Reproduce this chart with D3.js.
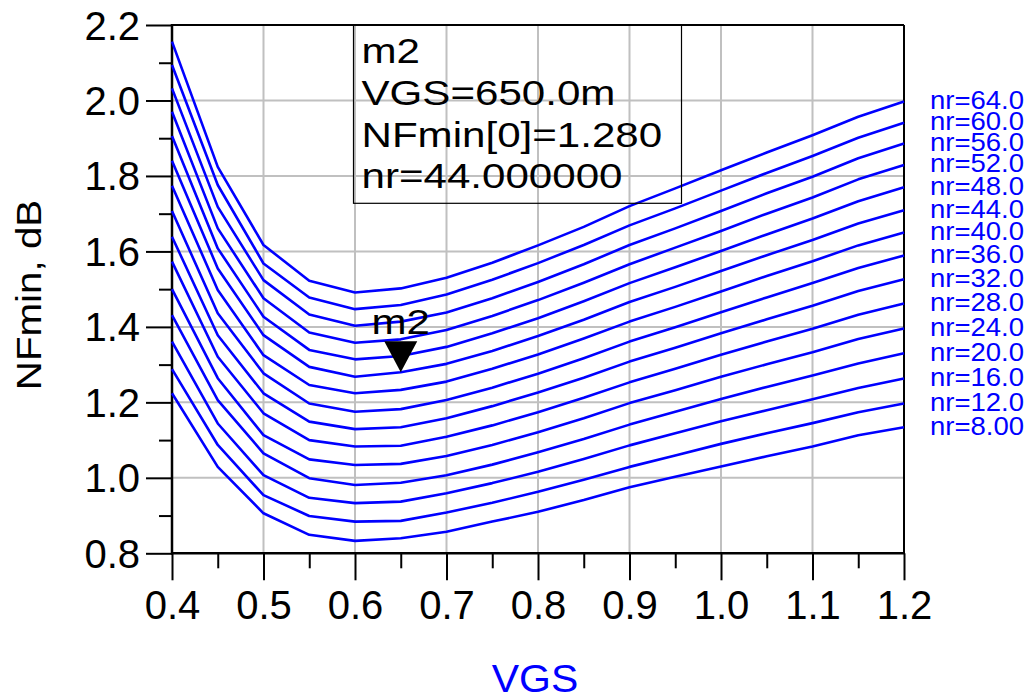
<!DOCTYPE html>
<html>
<head>
<meta charset="utf-8">
<script src="https://cdn.jsdelivr.net/npm/d3@7"></script>
<style>
  html, body { margin: 0; padding: 0; background: #fff; }
  svg { display: block; font-family: "Liberation Sans", Arial, Helvetica, sans-serif; }
</style>
</head>
<body>
<svg id="chart" width="1035" height="700"></svg>
<script>
// Gate bias sweep points (V)
const vgs = [0.40, 0.45, 0.50, 0.55, 0.60, 0.65, 0.70, 0.75, 0.80, 0.85, 0.90, 0.95, 1.00, 1.05, 1.10, 1.15, 1.20];

// Number of gate fingers for each curve
const nrValues = [8, 12, 16, 20, 24, 28, 32, 36, 40, 44, 48, 52, 56, 60, 64];
const nrLabels = ["nr=8.00", "nr=12.0", "nr=16.0", "nr=20.0", "nr=24.0", "nr=28.0", "nr=32.0", "nr=36.0",
                  "nr=40.0", "nr=44.0", "nr=48.0", "nr=52.0", "nr=56.0", "nr=60.0", "nr=64.0"];

// NFmin (dB) versus VGS, one row per nr value (same order as nrValues)
const nfminByNr = [
  [1.224, 1.029, 0.906, 0.849, 0.833, 0.840, 0.857, 0.884, 0.910, 0.941, 0.975, 1.003, 1.030, 1.057, 1.083, 1.113, 1.134],
  [1.288, 1.087, 0.954, 0.899, 0.884, 0.886, 0.908, 0.934, 0.963, 0.995, 1.029, 1.059, 1.090, 1.118, 1.145, 1.174, 1.197],
  [1.361, 1.144, 1.007, 0.947, 0.933, 0.937, 0.959, 0.986, 1.016, 1.050, 1.086, 1.118, 1.150, 1.179, 1.208, 1.238, 1.263],
  [1.431, 1.206, 1.065, 0.999, 0.981, 0.987, 1.007, 1.035, 1.068, 1.103, 1.141, 1.175, 1.209, 1.241, 1.271, 1.303, 1.330],
  [1.500, 1.264, 1.113, 1.049, 1.034, 1.037, 1.058, 1.087, 1.121, 1.158, 1.198, 1.232, 1.268, 1.301, 1.333, 1.368, 1.396],
  [1.573, 1.321, 1.171, 1.100, 1.083, 1.085, 1.109, 1.139, 1.174, 1.212, 1.253, 1.289, 1.326, 1.361, 1.395, 1.432, 1.462],
  [1.639, 1.378, 1.224, 1.149, 1.129, 1.134, 1.158, 1.190, 1.226, 1.265, 1.308, 1.345, 1.383, 1.420, 1.456, 1.495, 1.526],
  [1.707, 1.436, 1.277, 1.197, 1.175, 1.182, 1.206, 1.239, 1.276, 1.317, 1.361, 1.399, 1.439, 1.478, 1.516, 1.556, 1.589],
  [1.774, 1.498, 1.325, 1.246, 1.224, 1.233, 1.255, 1.289, 1.327, 1.369, 1.414, 1.453, 1.494, 1.535, 1.574, 1.616, 1.650],
  [1.840, 1.555, 1.378, 1.294, 1.268, 1.280, 1.302, 1.336, 1.376, 1.419, 1.466, 1.506, 1.548, 1.590, 1.630, 1.674, 1.709],
  [1.906, 1.608, 1.427, 1.339, 1.314, 1.323, 1.347, 1.383, 1.423, 1.468, 1.516, 1.558, 1.601, 1.645, 1.687, 1.733, 1.770],
  [1.970, 1.661, 1.476, 1.385, 1.358, 1.367, 1.392, 1.429, 1.471, 1.517, 1.566, 1.610, 1.654, 1.700, 1.743, 1.791, 1.829],
  [2.032, 1.718, 1.524, 1.433, 1.403, 1.414, 1.438, 1.476, 1.519, 1.566, 1.617, 1.661, 1.707, 1.754, 1.798, 1.847, 1.886],
  [2.094, 1.776, 1.568, 1.478, 1.447, 1.458, 1.486, 1.525, 1.569, 1.617, 1.669, 1.714, 1.761, 1.808, 1.853, 1.901, 1.941],
  [2.156, 1.824, 1.617, 1.522, 1.491, 1.502, 1.530, 1.570, 1.616, 1.665, 1.720, 1.767, 1.815, 1.862, 1.908, 1.957, 1.997]
];

// Marker m2 readout
const markerVgs = 0.65;
const markerNr = 44;
const markerLines = ["m2", "VGS=650.0m", "NFmin[0]=1.280", "nr=44.000000"];

// Axis ticks
const xMajorTicks = [0.4, 0.5, 0.6, 0.7, 0.8, 0.9, 1.0, 1.1, 1.2];
const xMinorTicks = [0.45, 0.55, 0.65, 0.75, 0.85, 0.95, 1.05, 1.15];
const yMajorTicks = [0.8, 1.0, 1.2, 1.4, 1.6, 1.8, 2.0, 2.2];
const yMinorTicks = [0.9, 1.1, 1.3, 1.5, 1.7, 1.9, 2.1];

const svg = d3.select("#chart");
const plotLeft = 172, plotRight = 904, plotTop = 25, plotBottom = 553.3;

const x = d3.scaleLinear().domain([0.4, 1.2]).range([plotLeft, plotRight]);
const y = d3.scaleLinear().domain([0.8, 2.2]).range([plotBottom, plotTop]);

const BLUE = "#0000ff";
const GRID = "#c0c0c0";

// Grid
const grid = svg.append("g");
grid.selectAll("line.v").data(xMajorTicks.slice(1, -1)).join("line")
  .attr("class", "v")
  .attr("x1", d => x(d)).attr("x2", d => x(d))
  .attr("y1", plotTop).attr("y2", plotBottom)
  .attr("stroke", GRID).attr("stroke-width", 2);
grid.selectAll("line.h").data(yMajorTicks.slice(1, -1)).join("line")
  .attr("class", "h")
  .attr("x1", plotLeft).attr("x2", plotRight)
  .attr("y1", d => y(d)).attr("y2", d => y(d))
  .attr("stroke", GRID).attr("stroke-width", 2);

// Axes
function styleAxis(g) {
  g.select(".domain").remove();
  g.selectAll(".tick line").attr("stroke", "#000").attr("stroke-width", 2);
  g.selectAll(".tick text").attr("fill", "#000").style("font-size", "40px")
    .style("font-family", "'Liberation Sans', Arial, sans-serif");
}

svg.append("g").attr("transform", `translate(${plotLeft},0)`)
  .call(d3.axisLeft(y).tickValues(yMajorTicks).tickSize(26).tickPadding(6).tickFormat(d3.format(".1f")))
  .call(styleAxis)
  .call(g => g.selectAll(".tick text").attr("dy", "0.35em"));
svg.append("g").attr("transform", `translate(${plotLeft},0)`)
  .call(d3.axisLeft(y).tickValues(yMinorTicks).tickSize(13).tickFormat(""))
  .call(styleAxis);

svg.append("g").attr("transform", `translate(0,${plotBottom})`)
  .call(d3.axisBottom(x).tickValues(xMajorTicks).tickSize(27).tickPadding(10).tickFormat(d3.format(".1f")))
  .call(styleAxis);
svg.append("g").attr("transform", `translate(0,${plotBottom})`)
  .call(d3.axisBottom(x).tickValues(xMinorTicks).tickSize(15).tickFormat(""))
  .call(styleAxis);

// Plot frame
const frame = svg.append("g").attr("stroke", "#000");
frame.append("line").attr("x1", plotLeft).attr("x2", plotRight).attr("y1", plotTop).attr("y2", plotTop).attr("stroke-width", 2);
frame.append("line").attr("x1", plotRight).attr("x2", plotRight).attr("y1", plotTop).attr("y2", plotBottom).attr("stroke-width", 2);
frame.append("line").attr("x1", plotLeft).attr("x2", plotLeft).attr("y1", plotTop - 1).attr("y2", plotBottom + 1).attr("stroke-width", 2.5);
frame.append("line").attr("x1", plotLeft - 1).attr("x2", plotRight + 1).attr("y1", plotBottom).attr("y2", plotBottom).attr("stroke-width", 2.5);

// Curves
const line = d3.line().x((d, i) => x(vgs[i])).y(d => y(d));
svg.append("g").selectAll("path").data(nfminByNr).join("path")
  .attr("d", line)
  .attr("fill", "none")
  .attr("stroke", BLUE)
  .attr("stroke-width", 2.6)
  .attr("stroke-linejoin", "round");

// Curve labels at the right end
svg.append("g").selectAll("text").data(nfminByNr).join("text")
  .attr("transform", d => `translate(930,${y(d[d.length - 1]) + 7.5}) scale(1.1,1)`)
  .attr("fill", BLUE)
  .style("font-size", "25px")
  .text((d, i) => nrLabels[i]);

// Marker readout box
const box = svg.append("g");
box.append("rect")
  .attr("x", 353.5).attr("y", plotTop)
  .attr("width", 328).attr("height", 178.3)
  .attr("fill", "none").attr("stroke", "#000").attr("stroke-width", 1.2);
box.selectAll("text").data(markerLines).join("text")
  .attr("transform", (d, i) => `translate(361.5,${63.3 + i * 41.7}) scale(1.17,1)`)
  .attr("fill", "#000")
  .style("font-size", "36px")
  .text(d => d);

// Marker triangle on the nr=44 curve
const mRow = nfminByNr[nrValues.indexOf(markerNr)];
const mIdx = vgs.findIndex(v => Math.abs(v - markerVgs) < 1e-9);
const mx = x(vgs[mIdx]), my = y(mRow[mIdx]);
svg.append("path")
  .attr("d", `M${mx},${my} L${mx - 16.5},${my - 31} L${mx + 16.5},${my - 31} Z`)
  .attr("fill", "#000");
svg.append("text")
  .attr("transform", `translate(${mx},${my - 38}) scale(1.17,1)`)
  .attr("text-anchor", "middle")
  .attr("fill", "#000")
  .style("font-size", "36px")
  .text(markerLines[0]);

// Axis titles
svg.append("text")
  .attr("transform", "translate(41,295) rotate(-90) scale(1.12,1)")
  .attr("text-anchor", "middle")
  .attr("fill", "#000")
  .style("font-size", "36px")
  .text("NFmin, dB");

svg.append("text")
  .attr("transform", "translate(535,692) scale(1.05,1)")
  .attr("text-anchor", "middle")
  .attr("fill", BLUE)
  .style("font-size", "39px")
  .text("VGS");
</script>
</body>
</html>
